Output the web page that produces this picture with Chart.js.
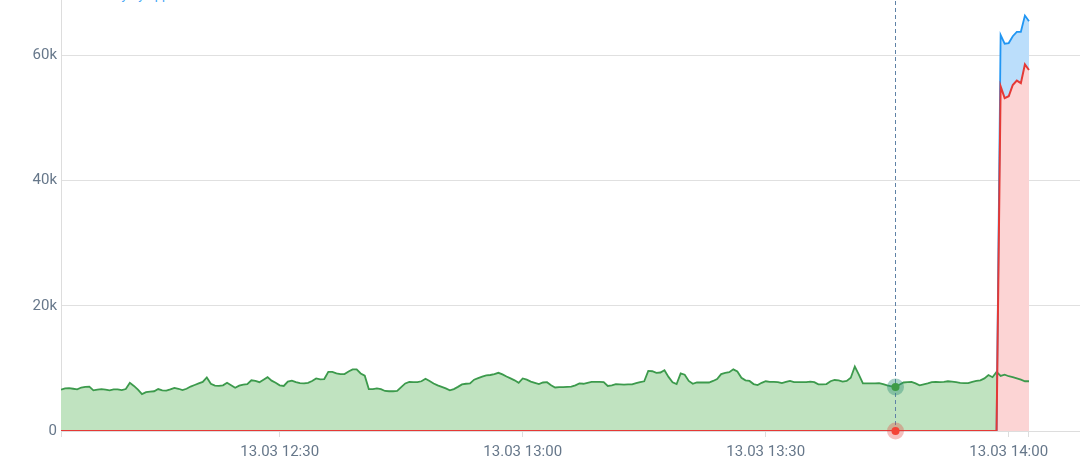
<!DOCTYPE html>
<html lang="en">
<head>
  <meta charset="UTF-8" />
  <title>Memory by app</title>
  <script src="https://cdn.jsdelivr.net/npm/chart.js"></script>
  <style>
    body { margin: 0; background: #fff; overflow: hidden; font-family: Roboto, sans-serif; }
    .wrap { position: relative; width: 1080px; height: 470px; overflow: hidden; }
    .title { position: absolute; left: 80px; top: -13px; font-size: 13px; color: #42a5f5; white-space: nowrap; }
    #memChart { position: absolute; left: 0; top: -20px; }
  </style>
</head>
<body>
<div class="wrap">
  <div class="title">Memory by app</div>
  <canvas id="memChart" width="1080" height="490"></canvas>
</div>

<script>
  // time is in minutes after 12:00 on 13.03, values in thousands
  const DAY = '13.03';
  const GREEN_START = 3;      // 12:03
  const SAMPLE_STEP = 0.5;    // 30 s samples
  const GREEN = [
    6.6, 6.8, 6.85, 6.75, 6.65, 6.95, 7.05, 7.1, 6.5, 6.6,
    6.7, 6.6, 6.5, 6.65, 6.65, 6.55, 6.7, 7.7, 7.2, 6.6,
    5.9, 6.2, 6.3, 6.35, 6.7, 6.5, 6.45, 6.65, 6.9, 6.75,
    6.55, 6.75, 7.1, 7.35, 7.6, 7.85, 8.55, 7.55, 7.25, 7.2,
    7.3, 7.7, 7.3, 6.9, 7.25, 7.4, 7.5, 8.1, 8.0, 7.8,
    8.2, 8.6, 8.05, 7.7, 7.3, 7.2, 7.9, 8.05, 7.8, 7.65,
    7.6, 7.7, 8.0, 8.4, 8.25, 8.3, 9.45, 9.45, 9.2, 9.1,
    9.1, 9.5, 9.85, 9.85, 9.2, 8.85, 6.7, 6.7, 6.8, 6.7,
    6.4, 6.35, 6.35, 6.4, 7.0, 7.6, 7.85, 7.8, 7.8, 7.95,
    8.35, 8.0, 7.6, 7.3, 7.05, 6.8, 6.5, 6.7, 7.05, 7.45,
    7.55, 7.6, 8.2, 8.45, 8.7, 8.9, 8.95, 9.1, 9.3, 9.05,
    8.7, 8.4, 8.1, 7.7, 8.4, 8.2, 7.9, 7.7, 7.5, 7.75,
    7.8, 7.3, 6.95, 7.0, 7.0, 7.05, 7.1, 7.3, 7.6, 7.55,
    7.7, 7.85, 7.85, 7.85, 7.8, 7.2, 7.3, 7.5, 7.45, 7.4,
    7.45, 7.45, 7.65, 7.8, 7.95, 9.6, 9.55, 9.3, 9.35, 9.7,
    8.65, 7.8, 7.5, 9.2, 9.0, 8.0, 7.55, 7.75, 7.75, 7.75,
    7.75, 8.0, 8.3, 9.1, 9.3, 9.4, 9.85, 9.5, 8.5, 8.1,
    8.0, 7.5, 7.35, 7.7, 7.95, 7.85, 7.85, 7.8, 7.65, 7.85,
    8.0, 7.8, 7.8, 7.8, 7.8, 7.9, 7.8, 7.45, 7.45, 7.5,
    7.95, 8.15, 8.1, 7.9, 8.0, 8.5, 10.3, 9.0, 7.6, 7.6,
    7.6, 7.6, 7.65, 7.5, 7.3, 7.15, 7.05, 7.4, 7.75, 7.8,
    7.85, 7.6, 7.3, 7.45, 7.6, 7.8, 7.85, 7.8, 7.85, 7.95,
    7.9, 7.8, 7.7, 7.65, 7.65, 7.85, 8.0, 8.1, 8.4, 8.95,
    8.6, 9.45, 8.8, 9.0, 8.75, 8.6, 8.4, 8.2, 7.95, 7.95
  ];
  const SPIKE_TIMES = [3, 118.5, 119, 119.5, 120, 120.5, 121, 121.5, 122, 122.5];
  const RED = [0, 0, 55.1, 53.2, 53.5, 55.3, 56.0, 55.6, 58.6, 57.7];
  const BLUE = [0, 0, 63.3, 61.9, 62.0, 63.1, 63.8, 63.8, 66.4, 65.5];

  const X_TICKS = [3, 30, 60, 90, 120, 122.5];
  const Y_TICKS = [0, 20, 40, 60];
  const HOVER_MINUTE = 106;   // 13:46

  const LABEL_COLOR = '#66778a';
  const GRID_COLOR = '#e0e0e0';

  const greenPoints = GREEN.map((v, i) => ({ x: GREEN_START + i * SAMPLE_STEP, y: v }));
  const redPoints = SPIKE_TIMES.map((t, i) => ({ x: t, y: RED[i] }));
  const bluePoints = SPIKE_TIMES.map((t, i) => ({ x: t, y: BLUE[i] }));

  function timeLabel(m) {
    const h = 12 + Math.floor(m / 60);
    const mm = String(m % 60).padStart(2, '0');
    return DAY + ' ' + h + ':' + mm;
  }

  function valueAt(times, values, t) {
    for (let i = 1; i < times.length; i++) {
      if (t <= times[i]) {
        const f = (t - times[i - 1]) / (times[i] - times[i - 1]);
        return values[i - 1] + f * (values[i] - values[i - 1]);
      }
    }
    return values[values.length - 1];
  }

  // dashed crosshair + highlighted points, like a hovered state
  const hoverMarker = {
    id: 'hoverMarker',
    afterDatasetsDraw(chart) {
      const { ctx, chartArea, scales } = chart;
      const x = Math.round(scales.x.getPixelForValue(HOVER_MINUTE)) + 0.5;
      ctx.save();
      ctx.strokeStyle = '#5f82a6';
      ctx.lineWidth = 1;
      ctx.setLineDash([4, 3]);
      ctx.beginPath();
      ctx.moveTo(x, 0);
      ctx.lineTo(x, chartArea.bottom);
      ctx.stroke();
      ctx.setLineDash([]);

      const gIdx = Math.round((HOVER_MINUTE - GREEN_START) / SAMPLE_STEP);
      const marks = [
        { v: GREEN[gIdx], halo: 'rgba(40,140,115,0.4)', dot: '#3e9b47' },
        { v: valueAt(SPIKE_TIMES, RED, HOVER_MINUTE), halo: 'rgba(229,57,53,0.32)', dot: '#f44336' }
      ];
      marks.forEach(m => {
        const y = scales.y.getPixelForValue(m.v);
        ctx.fillStyle = m.halo;
        ctx.beginPath();
        ctx.arc(x, y, 8.5, 0, Math.PI * 2);
        ctx.fill();
        ctx.fillStyle = m.dot;
        ctx.beginPath();
        ctx.arc(x, y, 4, 0, Math.PI * 2);
        ctx.fill();
      });
      ctx.restore();
    }
  };

  const ctx = document.getElementById('memChart').getContext('2d');
  new Chart(ctx, {
    type: 'line',
    data: {
      datasets: [
        {
          label: 'red',
          data: redPoints,
          borderColor: '#e53935',
          backgroundColor: '#fcd4d4',
          borderWidth: 2,
          fill: 'origin'
        },
        {
          label: 'blue',
          data: bluePoints,
          borderColor: '#2196f3',
          backgroundColor: '#bbdefb',
          borderWidth: 1.8,
          fill: 'origin'
        },
        {
          label: 'green',
          data: greenPoints,
          borderColor: '#3c9a4c',
          backgroundColor: '#c0e3c0',
          borderWidth: 1.8,
          fill: 'origin'
        }
      ]
    },
    options: {
      responsive: false,
      devicePixelRatio: 1,
      animation: false,
      layout: { padding: { top: 11, right: 0, left: 0, bottom: 0 } },
      elements: { point: { radius: 0, hoverRadius: 0 }, line: { tension: 0 } },
      plugins: {
        legend: { display: false },
        tooltip: { enabled: false },
        filler: { drawTime: 'beforeDatasetsDraw' }
      },
      scales: {
        x: {
          type: 'linear',
          min: 3,
          max: 128.8,
          afterBuildTicks: axis => { axis.ticks = X_TICKS.map(v => ({ value: v })); },
          afterFit: axis => { axis.height = 39; },
          grid: { drawOnChartArea: false, drawTicks: true, tickLength: 6, color: '#dddddd' },
          border: { display: true, color: '#dddddd' },
          ticks: {
            autoSkip: false,
            maxRotation: 0,
            padding: 6,
            color: LABEL_COLOR,
            font: { family: 'Roboto', size: 15 },
            callback: v => (v % 30 === 0 ? timeLabel(v) : '')
          }
        },
        y: {
          min: 0,
          max: 70,
          afterBuildTicks: axis => { axis.ticks = Y_TICKS.map(v => ({ value: v })); },
          afterFit: axis => { axis.width = 61; },
          grid: { color: GRID_COLOR, drawTicks: false },
          border: { display: true, color: '#dddddd' },
          ticks: {
            padding: 4,
            color: LABEL_COLOR,
            font: { family: 'Roboto', size: 15 },
            callback: v => (v === 0 ? '0' : v + 'k')
          }
        }
      }
    },
    plugins: [hoverMarker]
  });
</script>
</body>
</html>
